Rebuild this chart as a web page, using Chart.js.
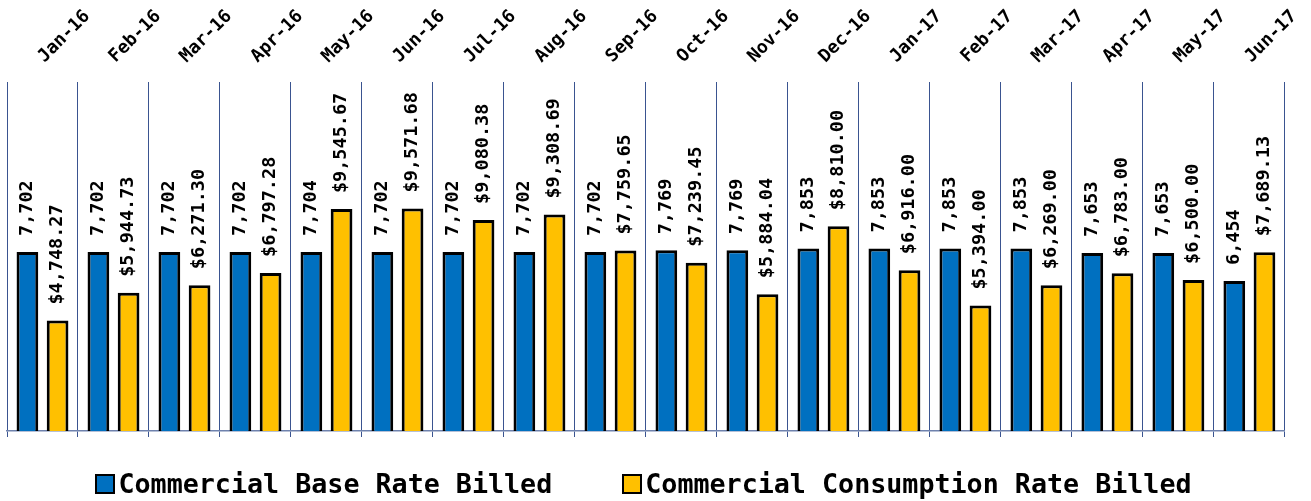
<!DOCTYPE html>
<html>
<head>
<meta charset="utf-8">
<script src="https://cdn.jsdelivr.net/npm/chart.js@4.4.0/dist/chart.umd.min.js"></script>
<style>
  html, body { margin: 0; padding: 0; background: #fff; }
  #wrap { position: relative; width: 1311px; height: 501px; }
  #legend { position: absolute; left: 0; top: 468px; width: 1287px; text-align: center;
    font: bold 26.7px "DejaVu Sans Mono", monospace; color: #000; white-space: nowrap; }
  #legend span.item { display: inline-block; margin: 0 35px; }
  #legend i { display: inline-block; width: 16px; height: 16px; border: 2px solid #000;
    vertical-align: -1px; margin-right: 3px; }
</style>
</head>
<body>
<div id="wrap">
  <canvas id="chart" width="1311" height="501"></canvas>
  <div id="legend"></div>
</div>
<script>
/* --------------- Data --------------------- */
const months = ["Jan-16","Feb-16","Mar-16","Apr-16","May-16","Jun-16","Jul-16","Aug-16","Sep-16",
  "Oct-16","Nov-16","Dec-16","Jan-17","Feb-17","Mar-17","Apr-17","May-17","Jun-17"];
const baseRate = [7702,7702,7702,7702,7704,7702,7702,7702,7702,7769,7769,7853,7853,7853,7853,7653,7653,6454];
const consumptionRate = [4748.27,5944.73,6271.30,6797.28,9545.67,9571.68,9080.38,9308.69,7759.65,
  7239.45,5884.04,8810.00,6916.00,5394.00,6269.00,6783.00,6500.00,7689.13];
const seriesNames = ["Commercial Base Rate Billed", "Commercial Consumption Rate Billed"];
const seriesColors = ["#0070C0", "#FFC000"];

const FONT = '"DejaVu Sans Mono", monospace';
const gridColor = "#3a5490";

/* --------------- Value labels (rotated) --------------------- */
const fmtBase = v => v.toLocaleString("en-US");
const fmtMoney = v => "$" + v.toLocaleString("en-US", { minimumFractionDigits: 2, maximumFractionDigits: 2 });

const barLabels = {
  id: "barLabels",
  afterDatasetsDraw(chart) {
    const ctx = chart.ctx;
    ctx.save();
    ctx.font = "bold 18.5px " + FONT;
    ctx.fillStyle = "#000";
    ctx.textAlign = "left";
    ctx.textBaseline = "middle";
    chart.data.datasets.forEach((ds, di) => {
      const meta = chart.getDatasetMeta(di);
      meta.data.forEach((bar, i) => {
        const txt = di === 0 ? fmtBase(ds.data[i]) : fmtMoney(ds.data[i]);
        ctx.save();
        ctx.translate(bar.x, bar.y - 16);
        ctx.rotate(-Math.PI / 2);
        ctx.fillText(txt, 0, 0);
        ctx.restore();
      });
    });
    ctx.restore();
  }
};

/* --------------- Chart --------------------- */
new Chart(document.getElementById("chart"), {
  type: "bar",
  plugins: [barLabels],
  data: {
    labels: months,
    datasets: [
      { label: seriesNames[0], data: baseRate, backgroundColor: seriesColors[0],
        borderColor: "#000", borderWidth: 3, categoryPercentage: 0.85, barPercentage: 0.72 },
      { label: seriesNames[1], data: consumptionRate, backgroundColor: seriesColors[1],
        borderColor: "#000", borderWidth: 3, categoryPercentage: 0.85, barPercentage: 0.72 },
    ],
  },
  options: {
    responsive: false,
    animation: false,
    layout: { padding: { left: 7, right: 23, top: -9, bottom: 64 } },
    plugins: { legend: { display: false }, tooltip: { enabled: false } },
    scales: {
      x: {
        position: "top",
        offset: true,
        grid: { offset: true, color: gridColor, lineWidth: 1, drawTicks: false },
        border: { display: false },
        ticks: { color: "#000", font: { family: FONT, size: 18, weight: "bold" },
          minRotation: 45, maxRotation: 45, padding: 15, labelOffset: 14 },
      },
      x2: {
        position: "bottom",
        offset: true,
        labels: months,
        grid: { offset: true, color: gridColor, drawOnChartArea: false, tickLength: 6 },
        border: { color: "#6f82ad", width: 1.5 },
        ticks: { display: false },
      },
      y: {
        display: false,
        min: 0,
        max: 15000,
      },
    },
  },
});

/* --------------- Legend --------------------- */
document.getElementById("legend").innerHTML = seriesNames.map((n, i) =>
  `<span class="item"><i style="background:${seriesColors[i]}"></i>${n}</span>`).join("");
</script>
</body>
</html>
